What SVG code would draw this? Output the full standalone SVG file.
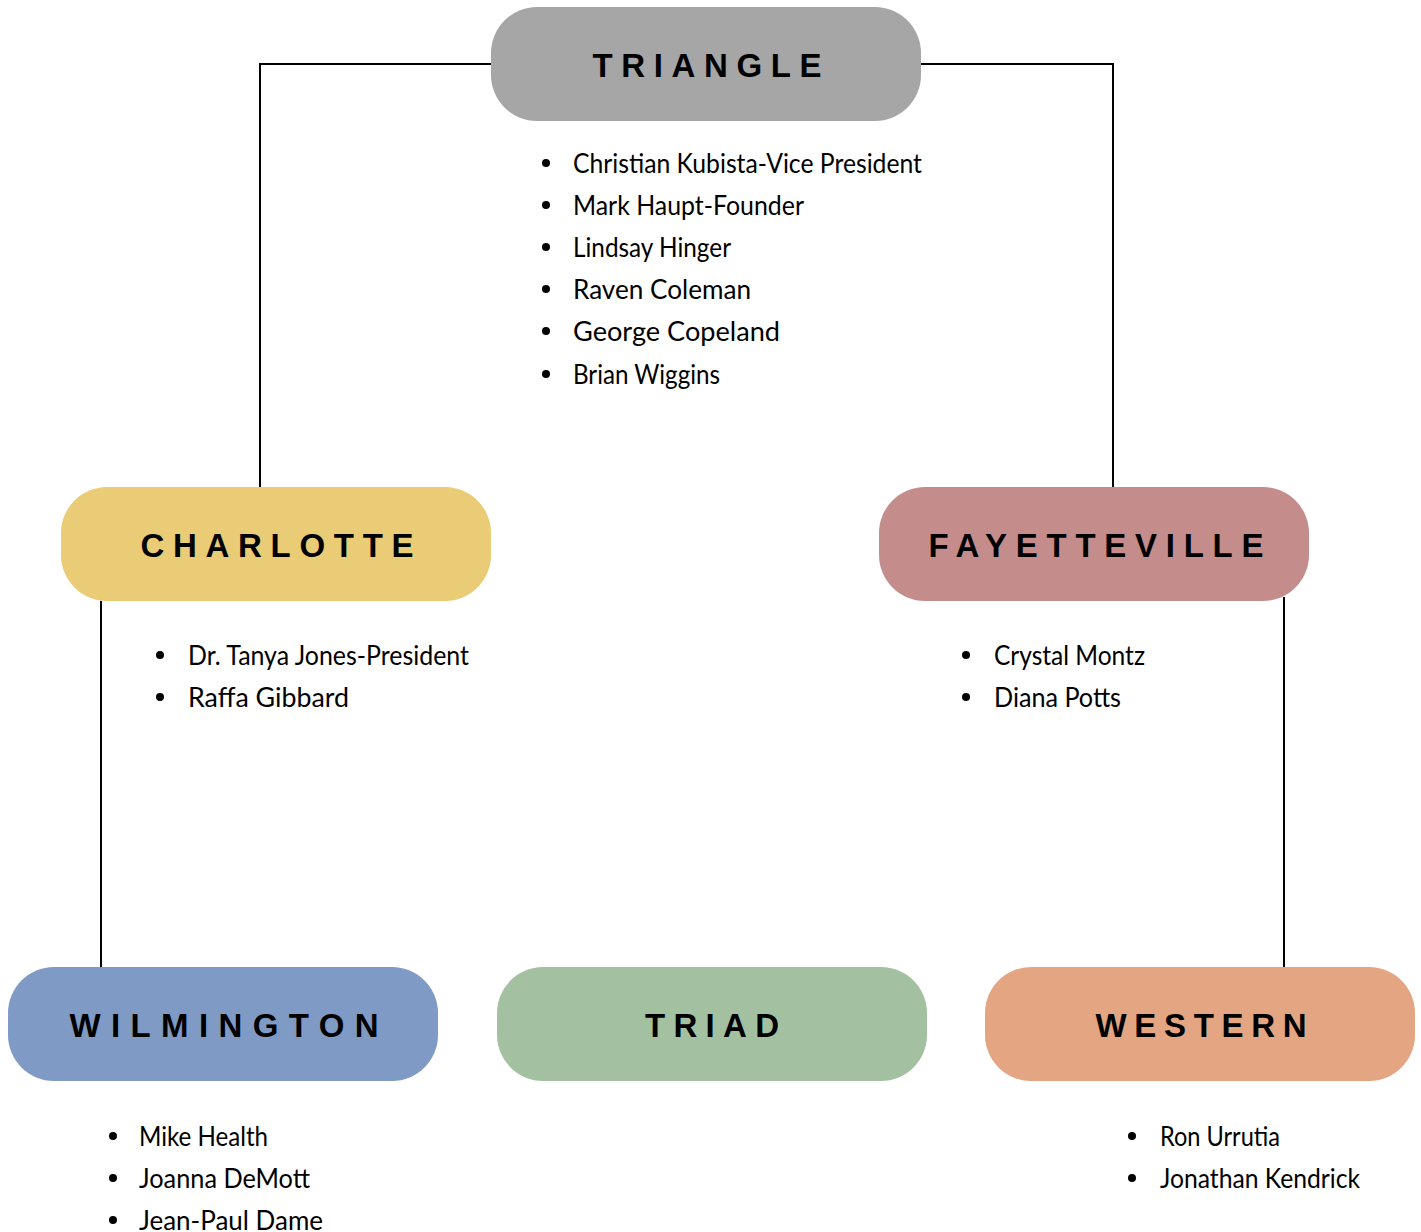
<svg xmlns="http://www.w3.org/2000/svg" width="1421" height="1232" viewBox="0 0 1421 1232">
<style>
.conn{fill:none;stroke:#000;stroke-width:2}
.title{font-family:"Liberation Sans",Arial,sans-serif;font-weight:700;font-size:33px;fill:#000;text-anchor:middle}
.item{font-family:Lato,"Liberation Sans",sans-serif;font-size:26px;fill:#000}
.bul{fill:#000}
</style>
<rect width="1421" height="1232" fill="#fff"/>
<g id="connectors">
<path class="conn" d="M491,64 H260 V487"/>
<path class="conn" d="M921,64 H1113 V487"/>
<path class="conn" d="M101,601 V967"/>
<path class="conn" d="M1284,597 V967"/>
</g>
<g id="triangle">
<rect x="491" y="7" width="430" height="114" rx="46" fill="#a6a6a6"/>
<text class="title" x="707" y="77" textLength="229" lengthAdjust="spacing">TRIANGLE</text>
<g class="bul"><circle cx="546" cy="163" r="4"/><circle cx="546" cy="205" r="4"/><circle cx="546" cy="247" r="4"/><circle cx="546" cy="289" r="4"/><circle cx="546" cy="331" r="4"/><circle cx="546" cy="374" r="4"/></g>
<text class="item" x="573" y="173" textLength="349" lengthAdjust="spacingAndGlyphs">Christian Kubista-Vice President</text>
<text class="item" x="573" y="215" textLength="231" lengthAdjust="spacingAndGlyphs">Mark Haupt-Founder</text>
<text class="item" x="573" y="257" textLength="158" lengthAdjust="spacingAndGlyphs">Lindsay Hinger</text>
<text class="item" x="573" y="299" textLength="178" lengthAdjust="spacingAndGlyphs">Raven Coleman</text>
<text class="item" x="573" y="341" textLength="207" lengthAdjust="spacingAndGlyphs">George Copeland</text>
<text class="item" x="573" y="384" textLength="147" lengthAdjust="spacingAndGlyphs">Brian Wiggins</text>
</g>
<g id="charlotte">
<rect x="61" y="487" width="430" height="114" rx="46" fill="#eacc76"/>
<text class="title" x="277" y="557" textLength="273" lengthAdjust="spacing">CHARLOTTE</text>
<g class="bul"><circle cx="160" cy="655" r="4"/><circle cx="160" cy="697" r="4"/></g>
<text class="item" x="188" y="665" textLength="281" lengthAdjust="spacingAndGlyphs">Dr. Tanya Jones-President</text>
<text class="item" x="188" y="707" textLength="161" lengthAdjust="spacingAndGlyphs">Raffa Gibbard</text>
</g>
<g id="fayetteville">
<rect x="879" y="487" width="430" height="114" rx="46" fill="#c48d8c"/>
<text class="title" x="1096" y="557" textLength="335" lengthAdjust="spacing">FAYETTEVILLE</text>
<g class="bul"><circle cx="966" cy="655" r="4"/><circle cx="966" cy="697" r="4"/></g>
<text class="item" x="994" y="665" textLength="151" lengthAdjust="spacingAndGlyphs">Crystal Montz</text>
<text class="item" x="994" y="707" textLength="127" lengthAdjust="spacingAndGlyphs">Diana Potts</text>
</g>
<g id="wilmington">
<rect x="8" y="967" width="430" height="114" rx="46" fill="#7f9ac4"/>
<text class="title" x="224" y="1037" textLength="309" lengthAdjust="spacing">WILMINGTON</text>
<g class="bul"><circle cx="113" cy="1136" r="4"/><circle cx="113" cy="1178" r="4"/><circle cx="113" cy="1220" r="4"/></g>
<text class="item" x="139" y="1146" textLength="129" lengthAdjust="spacingAndGlyphs">Mike Health</text>
<text class="item" x="139" y="1188" textLength="171" lengthAdjust="spacingAndGlyphs">Joanna DeMott</text>
<text class="item" x="139" y="1230" textLength="184" lengthAdjust="spacingAndGlyphs">Jean-Paul Dame</text>
</g>
<g id="triad">
<rect x="497" y="967" width="430" height="114" rx="46" fill="#a3c1a0"/>
<text class="title" x="712" y="1037" textLength="134" lengthAdjust="spacing">TRIAD</text>
</g>
<g id="western">
<rect x="985" y="967" width="430" height="114" rx="46" fill="#e3a582"/>
<text class="title" x="1201" y="1037" textLength="211" lengthAdjust="spacing">WESTERN</text>
<g class="bul"><circle cx="1132" cy="1136" r="4"/><circle cx="1132" cy="1178" r="4"/></g>
<text class="item" x="1160" y="1146" textLength="120" lengthAdjust="spacingAndGlyphs">Ron Urrutia</text>
<text class="item" x="1160" y="1188" textLength="200" lengthAdjust="spacingAndGlyphs">Jonathan Kendrick</text>
</g>
</svg>
